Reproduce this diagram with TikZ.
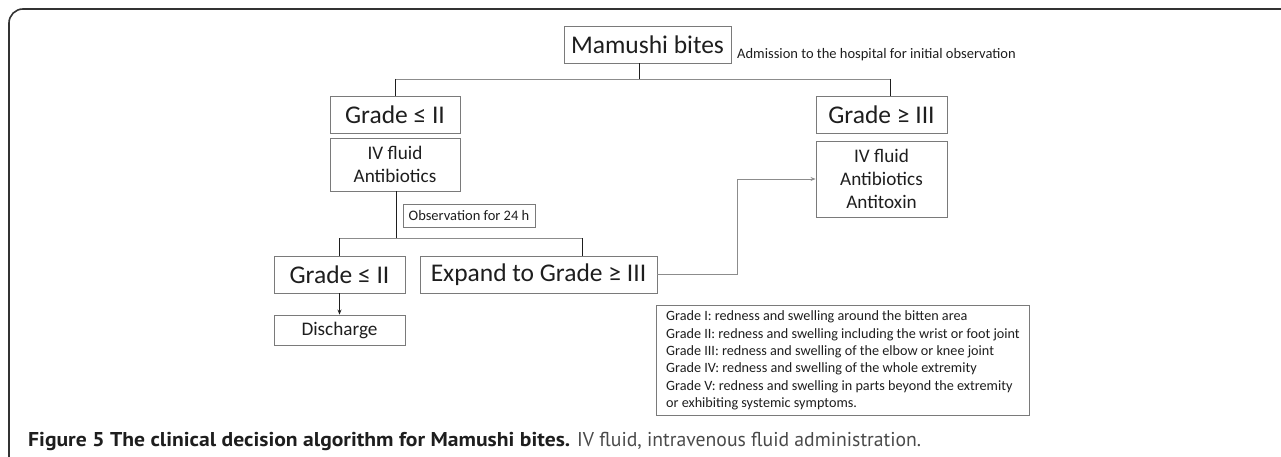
\documentclass[tikz,border=0pt]{standalone}
\usepackage{fontspec}
\setmainfont{Carlito}
\newfontfamily\capfont{PT Sans}
\usetikzlibrary{arrows.meta}
\definecolor{boxgray}{HTML}{7A7A7A}
\definecolor{linegray}{HTML}{8C8C8C}
\definecolor{txt}{HTML}{1E1E1E}
\definecolor{capgray}{HTML}{4A4A4A}
\tikzset{
  box/.style={draw=boxgray, line width=0.9pt, inner sep=0pt, text=txt, align=center},
  big/.style={box, font=\fontsize{25.5}{30}\selectfont},
  mid/.style={box, font=\fontsize{19.2}{23}\selectfont},
  small/.style={font=\fontsize{14.5}{17.3}\selectfont, text=txt},
  vline/.style={draw=txt, line width=0.8pt},
  hline/.style={draw=linegray, line width=0.9pt},
  arr/.style={-{Stealth[length=5pt,width=4pt]}},
  frame/.style={draw=black!80, line width=1.6pt},
  captext/.style={anchor=base west, inner sep=0pt, font=\capfont\fontsize{20}{24}\selectfont}
}
\begin{document}
\begin{tikzpicture}[x=1pt,y=-1pt]
\useasboundingbox (0,0) rectangle (1281,457);
\draw[frame, rounded corners=14pt] (1282,9) -- (9,9) -- (9,458);

\node[big, minimum width=167pt, minimum height=37pt] (mam) at (647.5,44.5) {Mamushi bites};
\node[small, anchor=base west, inner sep=0pt] (adm) at (737,59) {Admission to the hospital for initial observation};

\node[big, minimum width=130pt, minimum height=37pt] (g1) at (395,114.5) {Grade ≤ II};
\node[big, minimum width=131pt, minimum height=37pt] (g3) at (881.5,114.5) {Grade ≥ III};

\node[mid, minimum width=130pt, minimum height=53pt] (t1) at (395,164.5) {IV fluid\\Antibiotics};
\node[mid, minimum width=131pt, minimum height=76pt] (t3) at (881.5,179) {IV fluid\\Antibiotics\\Antitoxin};

\node[box, small, minimum width=132pt, minimum height=23pt] (obs) at (469,215.5) {Observation for 24 h};

\node[big, minimum width=131pt, minimum height=37pt] (g2) at (339.5,274.5) {Grade ≤ II};
\node[big, minimum width=237pt, minimum height=37pt] (exp) at (538.5,274.5) {Expand to Grade ≥ III};
\node[mid, minimum width=131pt, minimum height=30pt] (dis) at (339.5,330) {Discharge};

\node[box, anchor=north west, minimum width=373pt, minimum height=110pt, align=left, inner xsep=6pt,
      font=\fontsize{14.2}{17.3}\selectfont, text=txt] (leg) at (656,305)
{Grade I: redness and swelling around the bitten area\\
Grade II: redness and swelling including the wrist or foot joint\\
Grade III: redness and swelling of the elbow or knee joint\\
Grade IV: redness and swelling of the whole extremity\\
Grade V: redness and swelling in parts beyond the extremity\\
or exhibiting systemic symptoms.};

\node[captext, text=txt] (cap1) at (28,446)
  {\resizebox{542pt}{\height}{\bfseries Figure 5 The clinical decision algorithm for Mamushi bites.}};
\node[captext, text=capgray] (cap2) at (577,446)
  {\resizebox{344pt}{\height}{IV fluid, intravenous fluid administration.}};

% tree connectors
\coordinate (s1) at (639,79);
\coordinate (s1l) at (395,79);
\coordinate (s1r) at (890,79);
\draw[vline] (mam.south -| s1) -- (s1);
\draw[hline] (s1l) -- (s1r);
\draw[vline] (s1l) -- (g1.north);
\draw[vline] (s1r) -- (g3.north -| s1r);

\coordinate (s2) at (396,238);
\coordinate (s2l) at (339.5,238);
\coordinate (s2r) at (582,238);
\draw[vline] (t1.south -| s2) -- (s2);
\draw[hline] (s2l) -- (s2r);
\draw[vline] (s2l) -- (g2.north);
\draw[vline] (s2r) -- (exp.north -| s2r);

\draw[vline, arr] (g2.south) -- (dis.north);

\coordinate (k1) at (737,274);
\coordinate (k2) at (737,179);
\draw[hline, arr] (exp.east |- k1) -- (k1) -- (k2) -- (t3.west |- k2);
\end{tikzpicture}
\end{document}
